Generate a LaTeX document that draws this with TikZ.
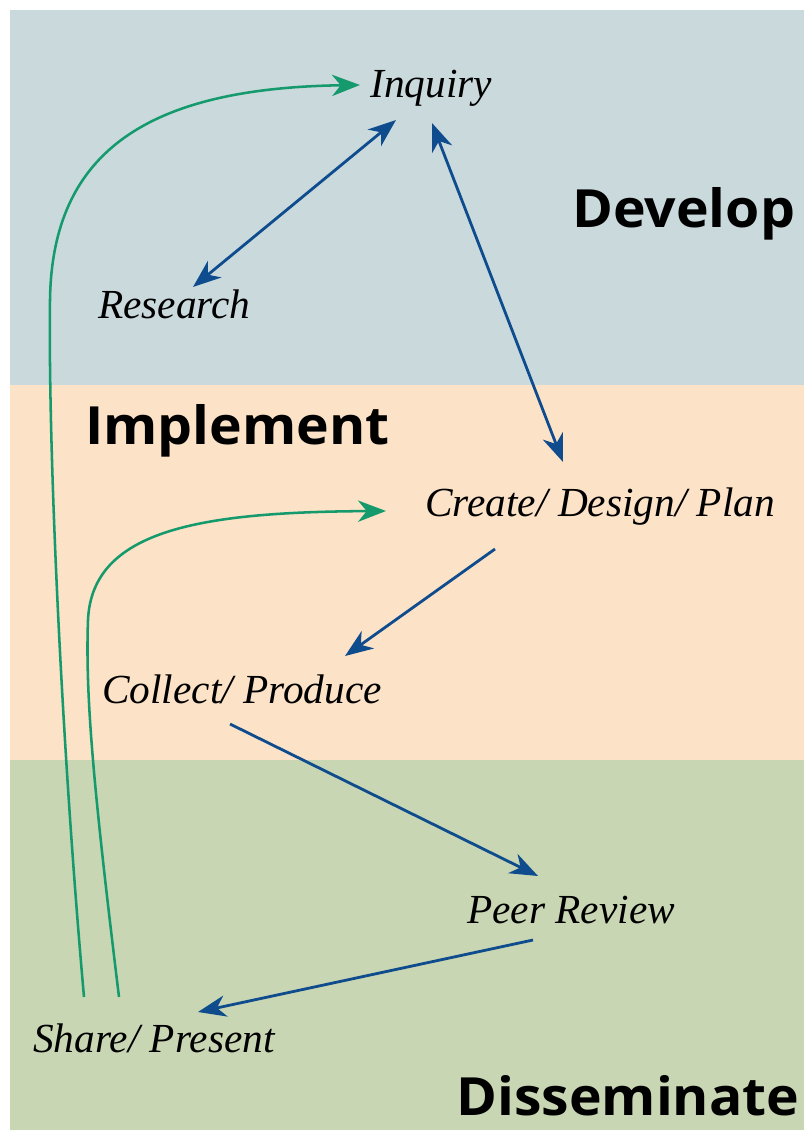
\documentclass[tikz,border=0pt]{standalone}
\usepackage{fontspec}
\usetikzlibrary{arrows.meta}
\newfontfamily\labelfont{Liberation Serif}
\newfontfamily\phasefont{Open Sans}[FakeStretch=1.05]
\definecolor{devband}{HTML}{C9D9DC}
\definecolor{impband}{HTML}{FCE2C6}
\definecolor{disband}{HTML}{C9D6B3}
\definecolor{flowblue}{HTML}{0E4C8E}
\definecolor{loopgreen}{HTML}{149A6C}
\tikzset{
  steplabel/.style={anchor=base west, inner sep=0pt, font=\labelfont\itshape\fontsize{31}{36}\selectfont},
  phaselabel/.style={anchor=base west, inner sep=0pt, font=\phasefont\bfseries\fontsize{39.5}{44}\selectfont},
  flow/.style={draw=flowblue, line width=2.1pt, ->},
  twoway/.style={draw=flowblue, line width=2.1pt, <->},
  loop/.style={draw=loopgreen, line width=1.9pt, ->},
}
\begin{document}
\begin{tikzpicture}[x=0.75pt, y=-0.75pt, >={Stealth[length=21pt, width=16pt, inset=6.5pt]}]
  \useasboundingbox (0,0) rectangle (804,1130);
  \fill[white] (0,0) rectangle (804,1130);
  % phase bands
  \fill[devband] (10,10) rectangle (804,385);
  \fill[impband] (10,385) rectangle (804,760);
  \fill[disband] (10,760) rectangle (804,1130);

  % phase titles
  \node[phaselabel] (develop) at (572,228) {Develop};
  \node[phaselabel] (implement) at (85,444) {Implement};
  \node[phaselabel] (disseminate) at (456,1115) {Disseminate};

  % steps
  \node[steplabel] (inquiry) at (370,98) {Inquiry};
  \node[steplabel] (research) at (98,318) {Research};
  \node[steplabel] (create) at (425,516) {Create/ Design/ Plan};
  \node[steplabel] (collect) at (102,703) {Collect/ Produce};
  \node[steplabel] (peer) at (467,923) {Peer Review};
  \node[steplabel] (share) at (33,1052) {Share/ Present};

  % arrow ends around the step labels
  \coordinate (inqL) at (396,120);
  \coordinate (inqR) at (432,123);
  \coordinate (resT) at (193,287);
  \coordinate (creT) at (563,462);
  \coordinate (creB) at (495,549);
  \coordinate (colT) at (345,656);
  \coordinate (colB) at (230,724);
  \coordinate (peeT) at (538,876);
  \coordinate (peeB) at (533,940);
  \coordinate (shaT) at (198,1012);
  \coordinate (shaA) at (84,997);
  \coordinate (shaB) at (119,997);
  \coordinate (inqW) at (360,85);
  \coordinate (creW) at (386,511);

  % blue flow
  \draw[twoway] (resT) -- (inqL);
  \draw[twoway] (creT) -- (inqR);
  \draw[flow] (creB) -- (colT);
  \draw[flow] (colB) -- (peeT);
  \draw[flow] (peeB) -- (shaT);

  % green feedback loops
  \draw[loop] (shaA) .. controls (62,750) and (48,450) .. (50,300)
                     .. controls (52,150) and (150,88) .. (inqW);
  \draw[loop] (shaB) .. controls (95,800) and (85,700) .. (88,620)
                     .. controls (92,530) and (200,512) .. (creW);
\end{tikzpicture}
\end{document}
